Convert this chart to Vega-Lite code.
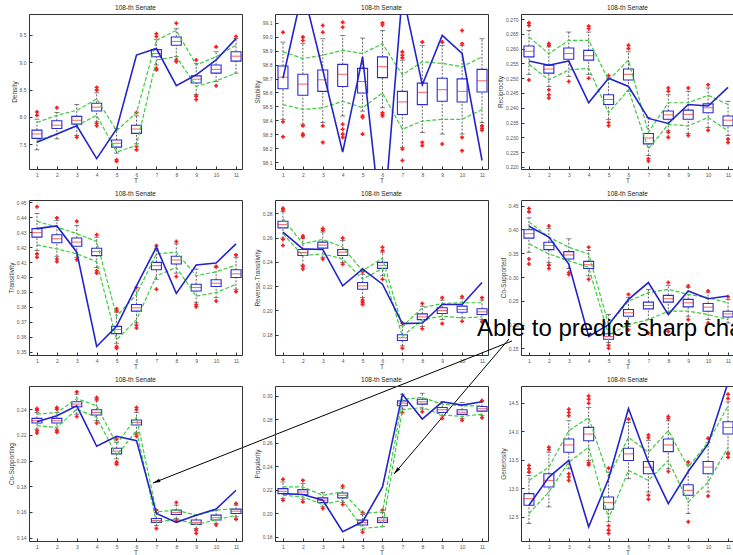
{
"$schema":"https://vega.github.io/schema/vega-lite/v6.json",
"padding":{"left":7,"top":4,"right":0,"bottom":0},
"background":"white",
"columns":3,
"spacing":{"row":31,"column":33},
"bounds":"flush",
"datasets":{
"boxes":[
{"panel":"Density","t":1,"lo":7.40,"q1":7.61,"med":7.69,"q3":7.76,"hi":7.96,"actual":7.54,"upper":7.90,"lower":7.57},
{"panel":"Density","t":2,"lo":7.60,"q1":7.79,"med":7.85,"q3":7.93,"hi":8.08,"actual":7.69,"upper":8.03,"lower":7.69},
{"panel":"Density","t":3,"lo":7.66,"q1":7.87,"med":7.94,"q3":8.01,"hi":8.23,"actual":7.84,"upper":8.12,"lower":7.84},
{"panel":"Density","t":4,"lo":7.91,"q1":8.11,"med":8.18,"q3":8.25,"hi":8.44,"actual":7.24,"upper":8.33,"lower":8.03},
{"panel":"Density","t":5,"lo":7.34,"q1":7.45,"med":7.52,"q3":7.58,"hi":7.79,"actual":7.78,"upper":7.75,"lower":7.36},
{"panel":"Density","t":6,"lo":7.51,"q1":7.70,"med":7.78,"q3":7.85,"hi":8.02,"actual":9.13,"upper":8.08,"lower":7.48},
{"panel":"Density","t":7,"lo":8.95,"q1":9.10,"med":9.16,"q3":9.23,"hi":9.41,"actual":9.25,"upper":9.40,"lower":9.04},
{"panel":"Density","t":8,"lo":9.10,"q1":9.31,"med":9.38,"q3":9.46,"hi":9.61,"actual":8.57,"upper":9.58,"lower":9.10},
{"panel":"Density","t":9,"lo":8.41,"q1":8.62,"med":8.69,"q3":8.75,"hi":8.98,"actual":8.77,"upper":8.95,"lower":8.56},
{"panel":"Density","t":10,"lo":8.65,"q1":8.80,"med":8.87,"q3":8.95,"hi":9.19,"actual":9.04,"upper":9.10,"lower":8.66},
{"panel":"Density","t":11,"lo":8.80,"q1":9.02,"med":9.11,"q3":9.19,"hi":9.43,"actual":9.43,"upper":9.31,"lower":8.80},
{"panel":"Stability","t":1,"lo":98.407,"q1":98.627,"med":98.710,"q3":98.790,"hi":98.962,"actual":98.702,"upper":98.892,"lower":98.513},
{"panel":"Stability","t":2,"lo":98.372,"q1":98.580,"med":98.660,"q3":98.731,"hi":98.951,"actual":99.341,"upper":98.844,"lower":98.478},
{"panel":"Stability","t":3,"lo":98.383,"q1":98.608,"med":98.691,"q3":98.762,"hi":98.986,"actual":98.762,"upper":98.868,"lower":98.490},
{"panel":"Stability","t":4,"lo":98.431,"q1":98.643,"med":98.731,"q3":98.802,"hi":99.010,"actual":98.171,"upper":98.903,"lower":98.537},
{"panel":"Stability","t":5,"lo":98.466,"q1":98.596,"med":98.679,"q3":98.773,"hi":98.991,"actual":98.856,"upper":98.880,"lower":98.490},
{"panel":"Stability","t":6,"lo":98.490,"q1":98.707,"med":98.785,"q3":98.856,"hi":99.045,"actual":97.568,"upper":98.951,"lower":98.596},
{"panel":"Stability","t":7,"lo":98.206,"q1":98.442,"med":98.532,"q3":98.608,"hi":98.832,"actual":99.317,"upper":98.726,"lower":98.336},
{"panel":"Stability","t":8,"lo":98.312,"q1":98.513,"med":98.601,"q3":98.667,"hi":98.939,"actual":98.655,"upper":98.821,"lower":98.395},
{"panel":"Stability","t":9,"lo":98.301,"q1":98.537,"med":98.620,"q3":98.702,"hi":98.939,"actual":99.010,"upper":98.809,"lower":98.407},
{"panel":"Stability","t":10,"lo":98.301,"q1":98.532,"med":98.608,"q3":98.698,"hi":98.939,"actual":98.880,"upper":98.785,"lower":98.407},
{"panel":"Stability","t":11,"lo":98.383,"q1":98.603,"med":98.684,"q3":98.766,"hi":98.986,"actual":98.111,"upper":98.856,"lower":98.478},
{"panel":"Reciprocity","t":1,"lo":0.2513,"q1":0.2572,"med":0.2591,"q3":0.2609,"hi":0.2661,"actual":0.2558,"upper":0.2639,"lower":0.2547},
{"panel":"Reciprocity","t":2,"lo":0.2472,"q1":0.2517,"med":0.2531,"q3":0.2544,"hi":0.2606,"actual":0.2544,"upper":0.2583,"lower":0.2494},
{"panel":"Reciprocity","t":3,"lo":0.2506,"q1":0.2564,"med":0.2583,"q3":0.2602,"hi":0.2656,"actual":0.2558,"upper":0.2628,"lower":0.2528},
{"panel":"Reciprocity","t":4,"lo":0.2513,"q1":0.2561,"med":0.2576,"q3":0.2594,"hi":0.2656,"actual":0.2417,"upper":0.2628,"lower":0.2533},
{"panel":"Reciprocity","t":5,"lo":0.2361,"q1":0.2411,"med":0.2428,"q3":0.2444,"hi":0.2500,"actual":0.2500,"upper":0.2494,"lower":0.2383},
{"panel":"Reciprocity","t":6,"lo":0.2456,"q1":0.2494,"med":0.2513,"q3":0.2531,"hi":0.2589,"actual":0.2472,"upper":0.2561,"lower":0.2461},
{"panel":"Reciprocity","t":7,"lo":0.2239,"q1":0.2278,"med":0.2298,"q3":0.2313,"hi":0.2367,"actual":0.2364,"upper":0.2317,"lower":0.2261},
{"panel":"Reciprocity","t":8,"lo":0.2322,"q1":0.2361,"med":0.2376,"q3":0.2389,"hi":0.2444,"actual":0.2347,"upper":0.2417,"lower":0.2344},
{"panel":"Reciprocity","t":9,"lo":0.2313,"q1":0.2361,"med":0.2378,"q3":0.2392,"hi":0.2456,"actual":0.2411,"upper":0.2417,"lower":0.2339},
{"panel":"Reciprocity","t":10,"lo":0.2333,"q1":0.2383,"med":0.2400,"q3":0.2413,"hi":0.2467,"actual":0.2406,"upper":0.2442,"lower":0.2367},
{"panel":"Reciprocity","t":11,"lo":0.2306,"q1":0.2339,"med":0.2358,"q3":0.2372,"hi":0.2422,"actual":0.2469,"upper":0.2411,"lower":0.2322},
{"panel":"Transitivity","t":1,"lo":0.4177,"q1":0.4267,"med":0.4297,"q3":0.4324,"hi":0.4425,"actual":0.4324,"upper":0.4373,"lower":0.4215},
{"panel":"Transitivity","t":2,"lo":0.4139,"q1":0.4229,"med":0.4256,"q3":0.4283,"hi":0.4380,"actual":0.4342,"upper":0.4335,"lower":0.4188},
{"panel":"Transitivity","t":3,"lo":0.4132,"q1":0.4206,"med":0.4234,"q3":0.4261,"hi":0.4346,"actual":0.4166,"upper":0.4290,"lower":0.4155},
{"panel":"Transitivity","t":4,"lo":0.4064,"q1":0.4143,"med":0.4170,"q3":0.4193,"hi":0.4267,"actual":0.3534,"upper":0.4238,"lower":0.4103},
{"panel":"Transitivity","t":5,"lo":0.3556,"q1":0.3620,"med":0.3647,"q3":0.3669,"hi":0.3764,"actual":0.3669,"upper":0.3737,"lower":0.3579},
{"panel":"Transitivity","t":6,"lo":0.3692,"q1":0.3771,"med":0.3793,"q3":0.3816,"hi":0.3906,"actual":0.3940,"upper":0.3884,"lower":0.3714},
{"panel":"Transitivity","t":7,"lo":0.3985,"q1":0.4048,"med":0.4076,"q3":0.4098,"hi":0.4188,"actual":0.4200,"upper":0.4155,"lower":0.4008},
{"panel":"Transitivity","t":8,"lo":0.4026,"q1":0.4087,"med":0.4114,"q3":0.4139,"hi":0.4222,"actual":0.3890,"upper":0.4166,"lower":0.4064},
{"panel":"Transitivity","t":9,"lo":0.3827,"q1":0.3906,"med":0.3929,"q3":0.3951,"hi":0.4053,"actual":0.4080,"upper":0.4008,"lower":0.3872},
{"panel":"Transitivity","t":10,"lo":0.3861,"q1":0.3936,"med":0.3958,"q3":0.3981,"hi":0.4064,"actual":0.4094,"upper":0.4035,"lower":0.3895},
{"panel":"Transitivity","t":11,"lo":0.3918,"q1":0.3997,"med":0.4021,"q3":0.4048,"hi":0.4132,"actual":0.4222,"upper":0.4080,"lower":0.3951},
{"panel":"Reverse-Transitivity","t":1,"lo":0.2597,"q1":0.2681,"med":0.2708,"q3":0.2736,"hi":0.2814,"actual":0.2647,"upper":0.2758,"lower":0.2633},
{"panel":"Reverse-Transitivity","t":2,"lo":0.2375,"q1":0.2453,"med":0.2478,"q3":0.2503,"hi":0.2592,"actual":0.2508,"upper":0.2550,"lower":0.2453},
{"panel":"Reverse-Transitivity","t":3,"lo":0.2439,"q1":0.2514,"med":0.2539,"q3":0.2564,"hi":0.2647,"actual":0.2503,"upper":0.2586,"lower":0.2467},
{"panel":"Reverse-Transitivity","t":4,"lo":0.2397,"q1":0.2453,"med":0.2481,"q3":0.2503,"hi":0.2578,"actual":0.2203,"upper":0.2522,"lower":0.2425},
{"panel":"Reverse-Transitivity","t":5,"lo":0.2106,"q1":0.2175,"med":0.2203,"q3":0.2231,"hi":0.2300,"actual":0.2342,"upper":0.2328,"lower":0.2258},
{"panel":"Reverse-Transitivity","t":6,"lo":0.2286,"q1":0.2347,"med":0.2372,"q3":0.2397,"hi":0.2481,"actual":0.2217,"upper":0.2431,"lower":0.2347},
{"panel":"Reverse-Transitivity","t":7,"lo":0.1708,"q1":0.1753,"med":0.1775,"q3":0.1800,"hi":0.1875,"actual":0.1892,"upper":0.1869,"lower":0.1786},
{"panel":"Reverse-Transitivity","t":8,"lo":0.1869,"q1":0.1925,"med":0.1947,"q3":0.1972,"hi":0.2036,"actual":0.1897,"upper":0.2022,"lower":0.1925},
{"panel":"Reverse-Transitivity","t":9,"lo":0.1925,"q1":0.1975,"med":0.2000,"q3":0.2022,"hi":0.2086,"actual":0.2050,"upper":0.2058,"lower":0.1953},
{"panel":"Reverse-Transitivity","t":10,"lo":0.1939,"q1":0.1986,"med":0.2008,"q3":0.2036,"hi":0.2097,"actual":0.2050,"upper":0.2064,"lower":0.1939},
{"panel":"Reverse-Transitivity","t":11,"lo":0.1925,"q1":0.1967,"med":0.1989,"q3":0.2014,"hi":0.2086,"actual":0.2231,"upper":0.2064,"lower":0.1947},
{"panel":"Co-Supported","t":1,"lo":0.3521,"q1":0.3818,"med":0.3911,"q3":0.3996,"hi":0.4244,"actual":0.4067,"upper":0.4159,"lower":0.3698},
{"panel":"Co-Supported","t":2,"lo":0.3308,"q1":0.3577,"med":0.3663,"q3":0.3733,"hi":0.4017,"actual":0.3840,"upper":0.3840,"lower":0.3485},
{"panel":"Co-Supported","t":3,"lo":0.3180,"q1":0.3379,"med":0.3464,"q3":0.3535,"hi":0.3804,"actual":0.3273,"upper":0.3627,"lower":0.3343},
{"panel":"Co-Supported","t":4,"lo":0.3024,"q1":0.3180,"med":0.3258,"q3":0.3329,"hi":0.3556,"actual":0.1748,"upper":0.3485,"lower":0.3202},
{"panel":"Co-Supported","t":5,"lo":0.1621,"q1":0.1691,"med":0.1748,"q3":0.1805,"hi":0.2209,"actual":0.1996,"upper":0.1996,"lower":0.1784},
{"panel":"Co-Supported","t":6,"lo":0.1961,"q1":0.2174,"med":0.2245,"q3":0.2315,"hi":0.2564,"actual":0.2528,"upper":0.2493,"lower":0.1996},
{"panel":"Co-Supported","t":7,"lo":0.2103,"q1":0.2330,"med":0.2400,"q3":0.2471,"hi":0.2741,"actual":0.2883,"upper":0.2670,"lower":0.2103},
{"panel":"Co-Supported","t":8,"lo":0.2245,"q1":0.2471,"med":0.2542,"q3":0.2613,"hi":0.2826,"actual":0.2209,"upper":0.2741,"lower":0.2280},
{"panel":"Co-Supported","t":9,"lo":0.2174,"q1":0.2372,"med":0.2457,"q3":0.2528,"hi":0.2776,"actual":0.2705,"upper":0.2634,"lower":0.2280},
{"panel":"Co-Supported","t":10,"lo":0.2103,"q1":0.2280,"med":0.2365,"q3":0.2443,"hi":0.2670,"actual":0.2542,"upper":0.2564,"lower":0.2209},
{"panel":"Co-Supported","t":11,"lo":0.2032,"q1":0.2159,"med":0.2223,"q3":0.2280,"hi":0.2528,"actual":0.2599,"upper":0.2457,"lower":0.2103},
{"panel":"Co-Supporting","t":1,"lo":0.2245,"q1":0.2292,"med":0.2310,"q3":0.2328,"hi":0.2374,"actual":0.2302,"upper":0.2361,"lower":0.2271},
{"panel":"Co-Supporting","t":2,"lo":0.2245,"q1":0.2292,"med":0.2310,"q3":0.2328,"hi":0.2374,"actual":0.2348,"upper":0.2374,"lower":0.2258},
{"panel":"Co-Supporting","t":3,"lo":0.2361,"q1":0.2418,"med":0.2439,"q3":0.2457,"hi":0.2516,"actual":0.2426,"upper":0.2482,"lower":0.2400},
{"panel":"Co-Supporting","t":4,"lo":0.2310,"q1":0.2354,"med":0.2374,"q3":0.2395,"hi":0.2464,"actual":0.2111,"upper":0.2426,"lower":0.2335},
{"panel":"Co-Supporting","t":5,"lo":0.2013,"q1":0.2052,"med":0.2073,"q3":0.2096,"hi":0.2142,"actual":0.2189,"upper":0.2129,"lower":0.2039},
{"panel":"Co-Supporting","t":6,"lo":0.2220,"q1":0.2276,"med":0.2297,"q3":0.2315,"hi":0.2374,"actual":0.2155,"upper":0.2335,"lower":0.2232},
{"panel":"Co-Supporting","t":7,"lo":0.1493,"q1":0.1519,"med":0.1534,"q3":0.1549,"hi":0.1596,"actual":0.1588,"upper":0.1601,"lower":0.1519},
{"panel":"Co-Supporting","t":8,"lo":0.1549,"q1":0.1580,"med":0.1596,"q3":0.1614,"hi":0.1653,"actual":0.1519,"upper":0.1614,"lower":0.1544},
{"panel":"Co-Supporting","t":9,"lo":0.1472,"q1":0.1503,"med":0.1519,"q3":0.1537,"hi":0.1575,"actual":0.1575,"upper":0.1575,"lower":0.1503},
{"panel":"Co-Supporting","t":10,"lo":0.1511,"q1":0.1537,"med":0.1555,"q3":0.1575,"hi":0.1614,"actual":0.1622,"upper":0.1614,"lower":0.1537},
{"panel":"Co-Supporting","t":11,"lo":0.1562,"q1":0.1588,"med":0.1606,"q3":0.1622,"hi":0.1653,"actual":0.1769,"upper":0.1627,"lower":0.1575},
{"panel":"Popularity","t":1,"lo":0.2125,"q1":0.2167,"med":0.2187,"q3":0.2210,"hi":0.2266,"actual":0.2167,"upper":0.2224,"lower":0.2153},
{"panel":"Popularity","t":2,"lo":0.2119,"q1":0.2159,"med":0.2181,"q3":0.2201,"hi":0.2252,"actual":0.2159,"upper":0.2224,"lower":0.2139},
{"panel":"Popularity","t":3,"lo":0.2054,"q1":0.2091,"med":0.2111,"q3":0.2131,"hi":0.2176,"actual":0.2111,"upper":0.2153,"lower":0.2074},
{"panel":"Popularity","t":4,"lo":0.2091,"q1":0.2131,"med":0.2153,"q3":0.2173,"hi":0.2215,"actual":0.1842,"upper":0.2181,"lower":0.2111},
{"panel":"Popularity","t":5,"lo":0.1857,"q1":0.1899,"med":0.1922,"q3":0.1941,"hi":0.1989,"actual":0.1927,"upper":0.1998,"lower":0.1871},
{"panel":"Popularity","t":6,"lo":0.1885,"q1":0.1922,"med":0.1941,"q3":0.1961,"hi":0.2006,"actual":0.2224,"upper":0.2012,"lower":0.1885},
{"panel":"Popularity","t":7,"lo":0.2888,"q1":0.2916,"med":0.2939,"q3":0.2958,"hi":0.3015,"actual":0.3015,"upper":0.2972,"lower":0.2882},
{"panel":"Popularity","t":8,"lo":0.2888,"q1":0.2930,"med":0.2950,"q3":0.2972,"hi":0.3023,"actual":0.2803,"upper":0.2987,"lower":0.2902},
{"panel":"Popularity","t":9,"lo":0.2831,"q1":0.2859,"med":0.2882,"q3":0.2902,"hi":0.2950,"actual":0.2950,"upper":0.2930,"lower":0.2837},
{"panel":"Popularity","t":10,"lo":0.2809,"q1":0.2843,"med":0.2862,"q3":0.2882,"hi":0.2944,"actual":0.2922,"upper":0.2916,"lower":0.2826},
{"panel":"Popularity","t":11,"lo":0.2831,"q1":0.2871,"med":0.2891,"q3":0.2910,"hi":0.2950,"actual":0.2950,"upper":0.2916,"lower":0.2845},
{"panel":"Generosity","t":1,"lo":12.384,"q1":12.703,"med":12.819,"q3":12.906,"hi":13.225,"actual":12.703,"upper":13.138,"lower":12.558},
{"panel":"Generosity","t":2,"lo":12.674,"q1":13.022,"med":13.138,"q3":13.254,"hi":13.631,"actual":13.196,"upper":13.370,"lower":12.935},
{"panel":"Generosity","t":3,"lo":13.341,"q1":13.631,"med":13.758,"q3":13.862,"hi":14.181,"actual":13.486,"upper":14.007,"lower":13.457},
{"panel":"Generosity","t":4,"lo":13.486,"q1":13.833,"med":13.949,"q3":14.065,"hi":14.413,"actual":12.326,"upper":14.239,"lower":13.718},
{"panel":"Generosity","t":5,"lo":12.413,"q1":12.634,"med":12.749,"q3":12.848,"hi":13.283,"actual":13.167,"upper":13.196,"lower":12.471},
{"panel":"Generosity","t":6,"lo":13.167,"q1":13.486,"med":13.602,"q3":13.700,"hi":14.152,"actual":14.396,"upper":13.891,"lower":13.312},
{"panel":"Generosity","t":7,"lo":12.935,"q1":13.254,"med":13.370,"q3":13.468,"hi":13.833,"actual":13.457,"upper":13.631,"lower":13.138},
{"panel":"Generosity","t":8,"lo":13.341,"q1":13.642,"med":13.758,"q3":13.862,"hi":14.181,"actual":12.732,"upper":14.007,"lower":13.486},
{"panel":"Generosity","t":9,"lo":12.558,"q1":12.877,"med":12.964,"q3":13.062,"hi":13.410,"actual":13.294,"upper":13.370,"lower":12.761},
{"panel":"Generosity","t":10,"lo":12.935,"q1":13.254,"med":13.370,"q3":13.468,"hi":13.805,"actual":13.776,"upper":13.805,"lower":13.109},
{"panel":"Generosity","t":11,"lo":13.631,"q1":13.949,"med":14.065,"q3":14.164,"hi":14.512,"actual":14.848,"upper":14.442,"lower":13.718}
],
"outliers":[
{"panel":"Density","t":1,"v":8.09},{"panel":"Density","t":1,"v":8.03},{"panel":"Density","t":2,"v":8.17},{"panel":"Density","t":3,"v":7.63},
{"panel":"Density","t":4,"v":8.54},{"panel":"Density","t":4,"v":8.49},{"panel":"Density","t":4,"v":7.88},{"panel":"Density","t":4,"v":7.84},
{"panel":"Density","t":5,"v":7.22},{"panel":"Density","t":5,"v":7.19},{"panel":"Density","t":6,"v":8.08},{"panel":"Density","t":6,"v":7.46},{"panel":"Density","t":6,"v":7.40},
{"panel":"Density","t":7,"v":9.52},{"panel":"Density","t":7,"v":9.47},{"panel":"Density","t":7,"v":8.89},{"panel":"Density","t":7,"v":8.86},
{"panel":"Density","t":8,"v":9.71},{"panel":"Density","t":8,"v":9.04},{"panel":"Density","t":8,"v":9.01},
{"panel":"Density","t":9,"v":9.04},{"panel":"Density","t":9,"v":8.38},{"panel":"Density","t":9,"v":8.32},
{"panel":"Density","t":10,"v":9.28},{"panel":"Density","t":10,"v":8.57},{"panel":"Density","t":11,"v":9.47},
{"panel":"Stability","t":1,"v":99.033},{"panel":"Stability","t":1,"v":98.390},{"panel":"Stability","t":1,"v":98.282},
{"panel":"Stability","t":2,"v":98.998},{"panel":"Stability","t":2,"v":98.974},{"panel":"Stability","t":2,"v":98.360},{"panel":"Stability","t":2,"v":98.301},{"panel":"Stability","t":2,"v":98.289},
{"panel":"Stability","t":3,"v":99.081},{"panel":"Stability","t":3,"v":99.033},{"panel":"Stability","t":3,"v":98.360},{"panel":"Stability","t":3,"v":98.241},
{"panel":"Stability","t":4,"v":99.104},{"panel":"Stability","t":4,"v":99.069},{"panel":"Stability","t":4,"v":98.372},{"panel":"Stability","t":4,"v":98.336},{"panel":"Stability","t":4,"v":98.301},{"panel":"Stability","t":4,"v":98.277},
{"panel":"Stability","t":5,"v":98.431},{"panel":"Stability","t":5,"v":98.420},{"panel":"Stability","t":5,"v":98.301},
{"panel":"Stability","t":6,"v":99.100},{"panel":"Stability","t":6,"v":99.085},{"panel":"Stability","t":6,"v":98.454},{"panel":"Stability","t":6,"v":98.442},{"panel":"Stability","t":6,"v":98.431},
{"panel":"Stability","t":7,"v":98.892},{"panel":"Stability","t":7,"v":98.868},{"panel":"Stability","t":7,"v":98.849},{"panel":"Stability","t":7,"v":98.194},{"panel":"Stability","t":7,"v":98.111},
{"panel":"Stability","t":8,"v":98.962},{"panel":"Stability","t":8,"v":98.241},{"panel":"Stability","t":8,"v":98.218},
{"panel":"Stability","t":9,"v":98.962},{"panel":"Stability","t":9,"v":98.230},
{"panel":"Stability","t":10,"v":99.045},{"panel":"Stability","t":10,"v":98.951},{"panel":"Stability","t":10,"v":98.277},{"panel":"Stability","t":10,"v":98.182},
{"panel":"Stability","t":11,"v":98.360},{"panel":"Stability","t":11,"v":98.343},{"panel":"Stability","t":11,"v":98.329},
{"panel":"Reciprocity","t":1,"v":0.2687},{"panel":"Reciprocity","t":1,"v":0.2678},{"panel":"Reciprocity","t":1,"v":0.2494},
{"panel":"Reciprocity","t":2,"v":0.2617},{"panel":"Reciprocity","t":2,"v":0.2611},{"panel":"Reciprocity","t":2,"v":0.2461},{"panel":"Reciprocity","t":2,"v":0.2444},{"panel":"Reciprocity","t":2,"v":0.2433},
{"panel":"Reciprocity","t":3,"v":0.2489},
{"panel":"Reciprocity","t":4,"v":0.2676},{"panel":"Reciprocity","t":4,"v":0.2667},{"panel":"Reciprocity","t":4,"v":0.2500},
{"panel":"Reciprocity","t":5,"v":0.2509},{"panel":"Reciprocity","t":5,"v":0.2350},{"panel":"Reciprocity","t":5,"v":0.2339},
{"panel":"Reciprocity","t":6,"v":0.2611},{"panel":"Reciprocity","t":6,"v":0.2600},
{"panel":"Reciprocity","t":7,"v":0.2228},{"panel":"Reciprocity","t":7,"v":0.2220},
{"panel":"Reciprocity","t":8,"v":0.2467},{"panel":"Reciprocity","t":8,"v":0.2456},{"panel":"Reciprocity","t":8,"v":0.2317},{"panel":"Reciprocity","t":8,"v":0.2300},
{"panel":"Reciprocity","t":9,"v":0.2467},{"panel":"Reciprocity","t":9,"v":0.2306},
{"panel":"Reciprocity","t":10,"v":0.2478},{"panel":"Reciprocity","t":10,"v":0.2324},
{"panel":"Reciprocity","t":11,"v":0.2294},{"panel":"Reciprocity","t":11,"v":0.2283},
{"panel":"Transitivity","t":1,"v":0.4471},{"panel":"Transitivity","t":1,"v":0.4155},{"panel":"Transitivity","t":1,"v":0.4132},
{"panel":"Transitivity","t":2,"v":0.4396},{"panel":"Transitivity","t":2,"v":0.4121},{"panel":"Transitivity","t":2,"v":0.4103},
{"panel":"Transitivity","t":3,"v":0.4373},{"panel":"Transitivity","t":3,"v":0.4116},
{"panel":"Transitivity","t":4,"v":0.4283},{"panel":"Transitivity","t":4,"v":0.4042},{"panel":"Transitivity","t":4,"v":0.4026},
{"panel":"Transitivity","t":5,"v":0.3787},{"panel":"Transitivity","t":5,"v":0.3773},{"panel":"Transitivity","t":5,"v":0.3534},{"panel":"Transitivity","t":5,"v":0.3523},
{"panel":"Transitivity","t":6,"v":0.3929},{"panel":"Transitivity","t":6,"v":0.3676},{"panel":"Transitivity","t":6,"v":0.3658},
{"panel":"Transitivity","t":7,"v":0.4210},{"panel":"Transitivity","t":7,"v":0.3918},
{"panel":"Transitivity","t":8,"v":0.4238},{"panel":"Transitivity","t":8,"v":0.4003},
{"panel":"Transitivity","t":9,"v":0.3814},{"panel":"Transitivity","t":9,"v":0.3800},
{"panel":"Transitivity","t":10,"v":0.4071},{"panel":"Transitivity","t":10,"v":0.3839},
{"panel":"Transitivity","t":11,"v":0.4148},{"panel":"Transitivity","t":11,"v":0.3902},
{"panel":"Reverse-Transitivity","t":1,"v":0.2842},{"panel":"Reverse-Transitivity","t":1,"v":0.2828},{"panel":"Reverse-Transitivity","t":1,"v":0.2586},{"panel":"Reverse-Transitivity","t":1,"v":0.2536},
{"panel":"Reverse-Transitivity","t":2,"v":0.2614},{"panel":"Reverse-Transitivity","t":2,"v":0.2603},{"panel":"Reverse-Transitivity","t":2,"v":0.2364},{"panel":"Reverse-Transitivity","t":2,"v":0.2342},
{"panel":"Reverse-Transitivity","t":3,"v":0.2675},{"panel":"Reverse-Transitivity","t":3,"v":0.2661},{"panel":"Reverse-Transitivity","t":3,"v":0.2425},
{"panel":"Reverse-Transitivity","t":4,"v":0.2597},{"panel":"Reverse-Transitivity","t":4,"v":0.2381},
{"panel":"Reverse-Transitivity","t":5,"v":0.2336},{"panel":"Reverse-Transitivity","t":5,"v":0.2319},{"panel":"Reverse-Transitivity","t":5,"v":0.2086},{"panel":"Reverse-Transitivity","t":5,"v":0.2069},{"panel":"Reverse-Transitivity","t":5,"v":0.2050},
{"panel":"Reverse-Transitivity","t":6,"v":0.2522},{"panel":"Reverse-Transitivity","t":6,"v":0.2494},{"panel":"Reverse-Transitivity","t":6,"v":0.2258},
{"panel":"Reverse-Transitivity","t":7,"v":0.1897},{"panel":"Reverse-Transitivity","t":7,"v":0.1689},
{"panel":"Reverse-Transitivity","t":8,"v":0.2058},{"panel":"Reverse-Transitivity","t":8,"v":0.1850},
{"panel":"Reverse-Transitivity","t":9,"v":0.2106},{"panel":"Reverse-Transitivity","t":9,"v":0.1892},
{"panel":"Reverse-Transitivity","t":10,"v":0.2114},{"panel":"Reverse-Transitivity","t":10,"v":0.1911},
{"panel":"Reverse-Transitivity","t":11,"v":0.2106},{"panel":"Reverse-Transitivity","t":11,"v":0.1908},
{"panel":"Co-Supported","t":1,"v":0.4442},{"panel":"Co-Supported","t":1,"v":0.4372},{"panel":"Co-Supported","t":1,"v":0.3379},{"panel":"Co-Supported","t":1,"v":0.3273},
{"panel":"Co-Supported","t":2,"v":0.4074},{"panel":"Co-Supported","t":2,"v":0.3251},{"panel":"Co-Supported","t":2,"v":0.3180},
{"panel":"Co-Supported","t":3,"v":0.3095},{"panel":"Co-Supported","t":3,"v":0.3053},
{"panel":"Co-Supported","t":4,"v":0.3627},{"panel":"Co-Supported","t":4,"v":0.2954},
{"panel":"Co-Supported","t":5,"v":0.1564},{"panel":"Co-Supported","t":5,"v":0.1500},
{"panel":"Co-Supported","t":6,"v":0.2634},{"panel":"Co-Supported","t":6,"v":0.1890},
{"panel":"Co-Supported","t":7,"v":0.1819},
{"panel":"Co-Supported","t":8,"v":0.2883},{"panel":"Co-Supported","t":8,"v":0.1855},
{"panel":"Co-Supported","t":9,"v":0.2812},{"panel":"Co-Supported","t":9,"v":0.2103},
{"panel":"Co-Supported","t":10,"v":0.2705},{"panel":"Co-Supported","t":10,"v":0.2032},
{"panel":"Co-Supported","t":11,"v":0.2585},
{"panel":"Co-Supporting","t":1,"v":0.2405},{"panel":"Co-Supporting","t":1,"v":0.2392},{"panel":"Co-Supporting","t":1,"v":0.2232},{"panel":"Co-Supporting","t":1,"v":0.2214},
{"panel":"Co-Supporting","t":2,"v":0.2413},{"panel":"Co-Supporting","t":2,"v":0.2400},{"panel":"Co-Supporting","t":2,"v":0.2232},{"panel":"Co-Supporting","t":2,"v":0.2220},
{"panel":"Co-Supporting","t":3,"v":0.2534},{"panel":"Co-Supporting","t":3,"v":0.2343},
{"panel":"Co-Supporting","t":4,"v":0.2490},{"panel":"Co-Supporting","t":4,"v":0.2477},{"panel":"Co-Supporting","t":4,"v":0.2292},
{"panel":"Co-Supporting","t":5,"v":0.2168},{"panel":"Co-Supporting","t":5,"v":0.1988},{"panel":"Co-Supporting","t":5,"v":0.1972},
{"panel":"Co-Supporting","t":6,"v":0.2413},{"panel":"Co-Supporting","t":6,"v":0.2395},{"panel":"Co-Supporting","t":6,"v":0.2207},{"panel":"Co-Supporting","t":6,"v":0.2189},
{"panel":"Co-Supporting","t":7,"v":0.1614},{"panel":"Co-Supporting","t":7,"v":0.1472},
{"panel":"Co-Supporting","t":8,"v":0.1673},{"panel":"Co-Supporting","t":8,"v":0.1529},
{"panel":"Co-Supporting","t":9,"v":0.1459},{"panel":"Co-Supporting","t":9,"v":0.1434},
{"panel":"Co-Supporting","t":10,"v":0.1498},
{"panel":"Co-Supporting","t":11,"v":0.1665},{"panel":"Co-Supporting","t":11,"v":0.1544},
{"panel":"Popularity","t":1,"v":0.2289},{"panel":"Popularity","t":1,"v":0.2111},
{"panel":"Popularity","t":2,"v":0.2280},{"panel":"Popularity","t":2,"v":0.2097},
{"panel":"Popularity","t":3,"v":0.2040},
{"panel":"Popularity","t":4,"v":0.2232},{"panel":"Popularity","t":4,"v":0.2074},
{"panel":"Popularity","t":5,"v":0.2006},{"panel":"Popularity","t":5,"v":0.1837},
{"panel":"Popularity","t":6,"v":0.2026},
{"panel":"Popularity","t":7,"v":0.2859},
{"panel":"Popularity","t":8,"v":0.2865},
{"panel":"Popularity","t":9,"v":0.2809},
{"panel":"Popularity","t":10,"v":0.2792},
{"panel":"Popularity","t":11,"v":0.2961},{"panel":"Popularity","t":11,"v":0.2814},
{"panel":"Generosity","t":1,"v":13.399},{"panel":"Generosity","t":1,"v":13.341},{"panel":"Generosity","t":1,"v":13.283},
{"panel":"Generosity","t":2,"v":13.718},{"panel":"Generosity","t":2,"v":13.677},
{"panel":"Generosity","t":3,"v":14.384},{"panel":"Generosity","t":3,"v":14.326},{"panel":"Generosity","t":3,"v":14.268},{"panel":"Generosity","t":3,"v":13.254},{"panel":"Generosity","t":3,"v":13.196},{"panel":"Generosity","t":3,"v":13.138},
{"panel":"Generosity","t":4,"v":14.616},{"panel":"Generosity","t":4,"v":14.558},{"panel":"Generosity","t":4,"v":14.489},{"panel":"Generosity","t":4,"v":13.445},{"panel":"Generosity","t":4,"v":13.410},
{"panel":"Generosity","t":5,"v":13.352},{"panel":"Generosity","t":5,"v":12.344},{"panel":"Generosity","t":5,"v":12.268},{"panel":"Generosity","t":5,"v":12.210},
{"panel":"Generosity","t":6,"v":14.210},
{"panel":"Generosity","t":7,"v":13.932},{"panel":"Generosity","t":7,"v":13.886},{"panel":"Generosity","t":7,"v":12.877},{"panel":"Generosity","t":7,"v":12.807},
{"panel":"Generosity","t":8,"v":14.257},{"panel":"Generosity","t":8,"v":14.222},{"panel":"Generosity","t":8,"v":13.294},
{"panel":"Generosity","t":9,"v":13.457},{"panel":"Generosity","t":9,"v":12.413},
{"panel":"Generosity","t":10,"v":13.874},{"panel":"Generosity","t":10,"v":12.865},
{"panel":"Generosity","t":11,"v":14.645},{"panel":"Generosity","t":11,"v":14.570},{"panel":"Generosity","t":11,"v":13.602},{"panel":"Generosity","t":11,"v":13.544}
]
},
"concat":[
{"width":213,"height":155,"title":"108-th Senate",
"encoding":{"x":{"type":"quantitative","scale":{"domain":[0.6,11.3],"nice":false,"zero":false,"padding":0},"axis":{"values":[1,2,3,4,5,6,7,8,9,10,11],"format":"d","labelOverlap":false},"title":"T"},"y":{"type":"quantitative","scale":{"domain":[7.05,9.88],"nice":false,"zero":false},"axis":{"values":[7.5,8,8.5,9,9.5],"format":".1f","labelOverlap":false},"title":"Density"}},
"layer":[
{"data":{"name":"boxes"},"transform":[{"filter":"datum.panel==='Density'"}],"mark":{"type":"rule","stroke":"#222","strokeDash":[2,1.5],"strokeWidth":0.7},"encoding":{"x":{"field":"t"},"y":{"field":"q3"},"y2":{"field":"hi"}}},
{"data":{"name":"boxes"},"transform":[{"filter":"datum.panel==='Density'"}],"mark":{"type":"rule","stroke":"#222","strokeDash":[2,1.5],"strokeWidth":0.7},"encoding":{"x":{"field":"t"},"y":{"field":"lo"},"y2":{"field":"q1"}}},
{"data":{"name":"boxes"},"transform":[{"filter":"datum.panel==='Density'"}],"mark":{"type":"tick","orient":"horizontal","color":"#222","size":5,"thickness":0.8},"encoding":{"x":{"field":"t"},"y":{"field":"hi"}}},
{"data":{"name":"boxes"},"transform":[{"filter":"datum.panel==='Density'"}],"mark":{"type":"tick","orient":"horizontal","color":"#222","size":5,"thickness":0.8},"encoding":{"x":{"field":"t"},"y":{"field":"lo"}}},
{"data":{"name":"boxes"},"transform":[{"filter":"datum.panel==='Density'"}],"mark":{"type":"bar","size":10,"fill":"transparent","stroke":"#2b2bdd","strokeWidth":1.1},"encoding":{"x":{"field":"t"},"y":{"field":"q3"},"y2":{"field":"q1"}}},
{"data":{"name":"boxes"},"transform":[{"filter":"datum.panel==='Density'"}],"mark":{"type":"tick","orient":"horizontal","color":"#ee2020","size":10,"thickness":1},"encoding":{"x":{"field":"t"},"y":{"field":"med"}}},
{"data":{"name":"outliers"},"transform":[{"filter":"datum.panel==='Density'"}],"mark":{"type":"point","shape":"cross","filled":true,"color":"#ee2020","size":16,"opacity":1},"encoding":{"x":{"field":"t"},"y":{"field":"v"}}},
{"data":{"name":"boxes"},"transform":[{"filter":"datum.panel==='Density'"}],"mark":{"type":"line","clip":true,"stroke":"#3ccc3c","strokeDash":[4,2],"strokeWidth":1.2},"encoding":{"x":{"field":"t"},"y":{"field":"upper"}}},
{"data":{"name":"boxes"},"transform":[{"filter":"datum.panel==='Density'"}],"mark":{"type":"line","clip":true,"stroke":"#3ccc3c","strokeDash":[4,2],"strokeWidth":1.2},"encoding":{"x":{"field":"t"},"y":{"field":"lower"}}},
{"data":{"name":"boxes"},"transform":[{"filter":"datum.panel==='Density'"}],"mark":{"type":"line","clip":true,"stroke":"#2323cc","strokeWidth":1.6},"encoding":{"x":{"field":"t"},"y":{"field":"actual"}}}
]},
{"width":213,"height":155,"title":"108-th Senate",
"encoding":{"x":{"type":"quantitative","scale":{"domain":[0.6,11.3],"nice":false,"zero":false,"padding":0},"axis":{"values":[1,2,3,4,5,6,7,8,9,10,11],"format":"d","labelOverlap":false},"title":"T"},"y":{"type":"quantitative","scale":{"domain":[98.05,99.164],"nice":false,"zero":false},"axis":{"values":[98.1,98.2,98.3,98.4,98.5,98.6,98.7,98.8,98.9,99,99.1],"format":".1f","labelOverlap":false},"title":"Stability"}},
"layer":[
{"data":{"name":"boxes"},"transform":[{"filter":"datum.panel==='Stability'"}],"mark":{"type":"rule","stroke":"#222","strokeDash":[2,1.5],"strokeWidth":0.7},"encoding":{"x":{"field":"t"},"y":{"field":"q3"},"y2":{"field":"hi"}}},
{"data":{"name":"boxes"},"transform":[{"filter":"datum.panel==='Stability'"}],"mark":{"type":"rule","stroke":"#222","strokeDash":[2,1.5],"strokeWidth":0.7},"encoding":{"x":{"field":"t"},"y":{"field":"lo"},"y2":{"field":"q1"}}},
{"data":{"name":"boxes"},"transform":[{"filter":"datum.panel==='Stability'"}],"mark":{"type":"tick","orient":"horizontal","color":"#222","size":5,"thickness":0.8},"encoding":{"x":{"field":"t"},"y":{"field":"hi"}}},
{"data":{"name":"boxes"},"transform":[{"filter":"datum.panel==='Stability'"}],"mark":{"type":"tick","orient":"horizontal","color":"#222","size":5,"thickness":0.8},"encoding":{"x":{"field":"t"},"y":{"field":"lo"}}},
{"data":{"name":"boxes"},"transform":[{"filter":"datum.panel==='Stability'"}],"mark":{"type":"bar","size":10,"fill":"transparent","stroke":"#2b2bdd","strokeWidth":1.1},"encoding":{"x":{"field":"t"},"y":{"field":"q3"},"y2":{"field":"q1"}}},
{"data":{"name":"boxes"},"transform":[{"filter":"datum.panel==='Stability'"}],"mark":{"type":"tick","orient":"horizontal","color":"#ee2020","size":10,"thickness":1},"encoding":{"x":{"field":"t"},"y":{"field":"med"}}},
{"data":{"name":"outliers"},"transform":[{"filter":"datum.panel==='Stability'"}],"mark":{"type":"point","shape":"cross","filled":true,"color":"#ee2020","size":16,"opacity":1},"encoding":{"x":{"field":"t"},"y":{"field":"v"}}},
{"data":{"name":"boxes"},"transform":[{"filter":"datum.panel==='Stability'"}],"mark":{"type":"line","clip":true,"stroke":"#3ccc3c","strokeDash":[4,2],"strokeWidth":1.2},"encoding":{"x":{"field":"t"},"y":{"field":"upper"}}},
{"data":{"name":"boxes"},"transform":[{"filter":"datum.panel==='Stability'"}],"mark":{"type":"line","clip":true,"stroke":"#3ccc3c","strokeDash":[4,2],"strokeWidth":1.2},"encoding":{"x":{"field":"t"},"y":{"field":"lower"}}},
{"data":{"name":"boxes"},"transform":[{"filter":"datum.panel==='Stability'"}],"mark":{"type":"line","clip":true,"stroke":"#2323cc","strokeWidth":1.6},"encoding":{"x":{"field":"t"},"y":{"field":"actual"}}}
]},
{"width":213,"height":155,"title":"108-th Senate",
"encoding":{"x":{"type":"quantitative","scale":{"domain":[0.6,11.3],"nice":false,"zero":false,"padding":0},"axis":{"values":[1,2,3,4,5,6,7,8,9,10,11],"format":"d","labelOverlap":false},"title":"T"},"y":{"type":"quantitative","scale":{"domain":[0.2193,0.2717],"nice":false,"zero":false},"axis":{"values":[0.22,0.225,0.23,0.235,0.24,0.245,0.25,0.255,0.26,0.265,0.27],"format":".3f","labelOverlap":false},"title":"Reciprocity"}},
"layer":[
{"data":{"name":"boxes"},"transform":[{"filter":"datum.panel==='Reciprocity'"}],"mark":{"type":"rule","stroke":"#222","strokeDash":[2,1.5],"strokeWidth":0.7},"encoding":{"x":{"field":"t"},"y":{"field":"q3"},"y2":{"field":"hi"}}},
{"data":{"name":"boxes"},"transform":[{"filter":"datum.panel==='Reciprocity'"}],"mark":{"type":"rule","stroke":"#222","strokeDash":[2,1.5],"strokeWidth":0.7},"encoding":{"x":{"field":"t"},"y":{"field":"lo"},"y2":{"field":"q1"}}},
{"data":{"name":"boxes"},"transform":[{"filter":"datum.panel==='Reciprocity'"}],"mark":{"type":"tick","orient":"horizontal","color":"#222","size":5,"thickness":0.8},"encoding":{"x":{"field":"t"},"y":{"field":"hi"}}},
{"data":{"name":"boxes"},"transform":[{"filter":"datum.panel==='Reciprocity'"}],"mark":{"type":"tick","orient":"horizontal","color":"#222","size":5,"thickness":0.8},"encoding":{"x":{"field":"t"},"y":{"field":"lo"}}},
{"data":{"name":"boxes"},"transform":[{"filter":"datum.panel==='Reciprocity'"}],"mark":{"type":"bar","size":10,"fill":"transparent","stroke":"#2b2bdd","strokeWidth":1.1},"encoding":{"x":{"field":"t"},"y":{"field":"q3"},"y2":{"field":"q1"}}},
{"data":{"name":"boxes"},"transform":[{"filter":"datum.panel==='Reciprocity'"}],"mark":{"type":"tick","orient":"horizontal","color":"#ee2020","size":10,"thickness":1},"encoding":{"x":{"field":"t"},"y":{"field":"med"}}},
{"data":{"name":"outliers"},"transform":[{"filter":"datum.panel==='Reciprocity'"}],"mark":{"type":"point","shape":"cross","filled":true,"color":"#ee2020","size":16,"opacity":1},"encoding":{"x":{"field":"t"},"y":{"field":"v"}}},
{"data":{"name":"boxes"},"transform":[{"filter":"datum.panel==='Reciprocity'"}],"mark":{"type":"line","clip":true,"stroke":"#3ccc3c","strokeDash":[4,2],"strokeWidth":1.2},"encoding":{"x":{"field":"t"},"y":{"field":"upper"}}},
{"data":{"name":"boxes"},"transform":[{"filter":"datum.panel==='Reciprocity'"}],"mark":{"type":"line","clip":true,"stroke":"#3ccc3c","strokeDash":[4,2],"strokeWidth":1.2},"encoding":{"x":{"field":"t"},"y":{"field":"lower"}}},
{"data":{"name":"boxes"},"transform":[{"filter":"datum.panel==='Reciprocity'"}],"mark":{"type":"line","clip":true,"stroke":"#2323cc","strokeWidth":1.6},"encoding":{"x":{"field":"t"},"y":{"field":"actual"}}}
]},
{"width":213,"height":155,"title":"108-th Senate",
"encoding":{"x":{"type":"quantitative","scale":{"domain":[0.6,11.3],"nice":false,"zero":false,"padding":0},"axis":{"values":[1,2,3,4,5,6,7,8,9,10,11],"format":"d","labelOverlap":false},"title":"T"},"y":{"type":"quantitative","scale":{"domain":[0.3477,0.4516],"nice":false,"zero":false},"axis":{"values":[0.35,0.36,0.37,0.38,0.39,0.4,0.41,0.42,0.43,0.44,0.45],"format":".2f","labelOverlap":false},"title":"Transitivity"}},
"layer":[
{"data":{"name":"boxes"},"transform":[{"filter":"datum.panel==='Transitivity'"}],"mark":{"type":"rule","stroke":"#222","strokeDash":[2,1.5],"strokeWidth":0.7},"encoding":{"x":{"field":"t"},"y":{"field":"q3"},"y2":{"field":"hi"}}},
{"data":{"name":"boxes"},"transform":[{"filter":"datum.panel==='Transitivity'"}],"mark":{"type":"rule","stroke":"#222","strokeDash":[2,1.5],"strokeWidth":0.7},"encoding":{"x":{"field":"t"},"y":{"field":"lo"},"y2":{"field":"q1"}}},
{"data":{"name":"boxes"},"transform":[{"filter":"datum.panel==='Transitivity'"}],"mark":{"type":"tick","orient":"horizontal","color":"#222","size":5,"thickness":0.8},"encoding":{"x":{"field":"t"},"y":{"field":"hi"}}},
{"data":{"name":"boxes"},"transform":[{"filter":"datum.panel==='Transitivity'"}],"mark":{"type":"tick","orient":"horizontal","color":"#222","size":5,"thickness":0.8},"encoding":{"x":{"field":"t"},"y":{"field":"lo"}}},
{"data":{"name":"boxes"},"transform":[{"filter":"datum.panel==='Transitivity'"}],"mark":{"type":"bar","size":10,"fill":"transparent","stroke":"#2b2bdd","strokeWidth":1.1},"encoding":{"x":{"field":"t"},"y":{"field":"q3"},"y2":{"field":"q1"}}},
{"data":{"name":"boxes"},"transform":[{"filter":"datum.panel==='Transitivity'"}],"mark":{"type":"tick","orient":"horizontal","color":"#ee2020","size":10,"thickness":1},"encoding":{"x":{"field":"t"},"y":{"field":"med"}}},
{"data":{"name":"outliers"},"transform":[{"filter":"datum.panel==='Transitivity'"}],"mark":{"type":"point","shape":"cross","filled":true,"color":"#ee2020","size":16,"opacity":1},"encoding":{"x":{"field":"t"},"y":{"field":"v"}}},
{"data":{"name":"boxes"},"transform":[{"filter":"datum.panel==='Transitivity'"}],"mark":{"type":"line","clip":true,"stroke":"#3ccc3c","strokeDash":[4,2],"strokeWidth":1.2},"encoding":{"x":{"field":"t"},"y":{"field":"upper"}}},
{"data":{"name":"boxes"},"transform":[{"filter":"datum.panel==='Transitivity'"}],"mark":{"type":"line","clip":true,"stroke":"#3ccc3c","strokeDash":[4,2],"strokeWidth":1.2},"encoding":{"x":{"field":"t"},"y":{"field":"lower"}}},
{"data":{"name":"boxes"},"transform":[{"filter":"datum.panel==='Transitivity'"}],"mark":{"type":"line","clip":true,"stroke":"#2323cc","strokeWidth":1.6},"encoding":{"x":{"field":"t"},"y":{"field":"actual"}}}
]},
{"width":213,"height":155,"title":"108-th Senate",
"encoding":{"x":{"type":"quantitative","scale":{"domain":[0.6,11.3],"nice":false,"zero":false,"padding":0},"axis":{"values":[1,2,3,4,5,6,7,8,9,10,11],"format":"d","labelOverlap":false},"title":"T"},"y":{"type":"quantitative","scale":{"domain":[0.1633,0.2911],"nice":false,"zero":false},"axis":{"values":[0.18,0.2,0.22,0.24,0.26,0.28],"format":".2f","labelOverlap":false},"title":"Reverse-Transitivity"}},
"layer":[
{"data":{"name":"boxes"},"transform":[{"filter":"datum.panel==='Reverse-Transitivity'"}],"mark":{"type":"rule","stroke":"#222","strokeDash":[2,1.5],"strokeWidth":0.7},"encoding":{"x":{"field":"t"},"y":{"field":"q3"},"y2":{"field":"hi"}}},
{"data":{"name":"boxes"},"transform":[{"filter":"datum.panel==='Reverse-Transitivity'"}],"mark":{"type":"rule","stroke":"#222","strokeDash":[2,1.5],"strokeWidth":0.7},"encoding":{"x":{"field":"t"},"y":{"field":"lo"},"y2":{"field":"q1"}}},
{"data":{"name":"boxes"},"transform":[{"filter":"datum.panel==='Reverse-Transitivity'"}],"mark":{"type":"tick","orient":"horizontal","color":"#222","size":5,"thickness":0.8},"encoding":{"x":{"field":"t"},"y":{"field":"hi"}}},
{"data":{"name":"boxes"},"transform":[{"filter":"datum.panel==='Reverse-Transitivity'"}],"mark":{"type":"tick","orient":"horizontal","color":"#222","size":5,"thickness":0.8},"encoding":{"x":{"field":"t"},"y":{"field":"lo"}}},
{"data":{"name":"boxes"},"transform":[{"filter":"datum.panel==='Reverse-Transitivity'"}],"mark":{"type":"bar","size":10,"fill":"transparent","stroke":"#2b2bdd","strokeWidth":1.1},"encoding":{"x":{"field":"t"},"y":{"field":"q3"},"y2":{"field":"q1"}}},
{"data":{"name":"boxes"},"transform":[{"filter":"datum.panel==='Reverse-Transitivity'"}],"mark":{"type":"tick","orient":"horizontal","color":"#ee2020","size":10,"thickness":1},"encoding":{"x":{"field":"t"},"y":{"field":"med"}}},
{"data":{"name":"outliers"},"transform":[{"filter":"datum.panel==='Reverse-Transitivity'"}],"mark":{"type":"point","shape":"cross","filled":true,"color":"#ee2020","size":16,"opacity":1},"encoding":{"x":{"field":"t"},"y":{"field":"v"}}},
{"data":{"name":"boxes"},"transform":[{"filter":"datum.panel==='Reverse-Transitivity'"}],"mark":{"type":"line","clip":true,"stroke":"#3ccc3c","strokeDash":[4,2],"strokeWidth":1.2},"encoding":{"x":{"field":"t"},"y":{"field":"upper"}}},
{"data":{"name":"boxes"},"transform":[{"filter":"datum.panel==='Reverse-Transitivity'"}],"mark":{"type":"line","clip":true,"stroke":"#3ccc3c","strokeDash":[4,2],"strokeWidth":1.2},"encoding":{"x":{"field":"t"},"y":{"field":"lower"}}},
{"data":{"name":"boxes"},"transform":[{"filter":"datum.panel==='Reverse-Transitivity'"}],"mark":{"type":"line","clip":true,"stroke":"#2323cc","strokeWidth":1.6},"encoding":{"x":{"field":"t"},"y":{"field":"actual"}}}
]},
{"width":213,"height":155,"title":"108-th Senate",
"encoding":{"x":{"type":"quantitative","scale":{"domain":[0.6,11.3],"nice":false,"zero":false,"padding":0},"axis":{"values":[1,2,3,4,5,6,7,8,9,10,11],"format":"d","labelOverlap":false},"title":"T"},"y":{"type":"quantitative","scale":{"domain":[0.1358,0.4621],"nice":false,"zero":false},"axis":{"values":[0.15,0.2,0.25,0.3,0.35,0.4,0.45],"format":".2f","labelOverlap":false},"title":"Co-Supported"}},
"layer":[
{"data":{"name":"boxes"},"transform":[{"filter":"datum.panel==='Co-Supported'"}],"mark":{"type":"rule","stroke":"#222","strokeDash":[2,1.5],"strokeWidth":0.7},"encoding":{"x":{"field":"t"},"y":{"field":"q3"},"y2":{"field":"hi"}}},
{"data":{"name":"boxes"},"transform":[{"filter":"datum.panel==='Co-Supported'"}],"mark":{"type":"rule","stroke":"#222","strokeDash":[2,1.5],"strokeWidth":0.7},"encoding":{"x":{"field":"t"},"y":{"field":"lo"},"y2":{"field":"q1"}}},
{"data":{"name":"boxes"},"transform":[{"filter":"datum.panel==='Co-Supported'"}],"mark":{"type":"tick","orient":"horizontal","color":"#222","size":5,"thickness":0.8},"encoding":{"x":{"field":"t"},"y":{"field":"hi"}}},
{"data":{"name":"boxes"},"transform":[{"filter":"datum.panel==='Co-Supported'"}],"mark":{"type":"tick","orient":"horizontal","color":"#222","size":5,"thickness":0.8},"encoding":{"x":{"field":"t"},"y":{"field":"lo"}}},
{"data":{"name":"boxes"},"transform":[{"filter":"datum.panel==='Co-Supported'"}],"mark":{"type":"bar","size":10,"fill":"transparent","stroke":"#2b2bdd","strokeWidth":1.1},"encoding":{"x":{"field":"t"},"y":{"field":"q3"},"y2":{"field":"q1"}}},
{"data":{"name":"boxes"},"transform":[{"filter":"datum.panel==='Co-Supported'"}],"mark":{"type":"tick","orient":"horizontal","color":"#ee2020","size":10,"thickness":1},"encoding":{"x":{"field":"t"},"y":{"field":"med"}}},
{"data":{"name":"outliers"},"transform":[{"filter":"datum.panel==='Co-Supported'"}],"mark":{"type":"point","shape":"cross","filled":true,"color":"#ee2020","size":16,"opacity":1},"encoding":{"x":{"field":"t"},"y":{"field":"v"}}},
{"data":{"name":"boxes"},"transform":[{"filter":"datum.panel==='Co-Supported'"}],"mark":{"type":"line","clip":true,"stroke":"#3ccc3c","strokeDash":[4,2],"strokeWidth":1.2},"encoding":{"x":{"field":"t"},"y":{"field":"upper"}}},
{"data":{"name":"boxes"},"transform":[{"filter":"datum.panel==='Co-Supported'"}],"mark":{"type":"line","clip":true,"stroke":"#3ccc3c","strokeDash":[4,2],"strokeWidth":1.2},"encoding":{"x":{"field":"t"},"y":{"field":"lower"}}},
{"data":{"name":"boxes"},"transform":[{"filter":"datum.panel==='Co-Supported'"}],"mark":{"type":"line","clip":true,"stroke":"#2323cc","strokeWidth":1.6},"encoding":{"x":{"field":"t"},"y":{"field":"actual"}}},
{"data":{"values":[{"note":"Able to predict sharp changes"}]},"mark":{"type":"text","clip":false,"font":"Liberation Sans","fontSize":24,"align":"left","baseline":"alphabetic","color":"black"},"encoding":{"text":{"field":"note","type":"nominal"},"x":{"datum":-1.61},"y":{"datum":0.1758}}},
{"data":{"values":[{"note":"arrow"}]},"mark":{"type":"rule","clip":false,"color":"black","strokeWidth":1},"encoding":{"x":{"datum":0.148},"y":{"datum":0.1653},"x2":{"datum":-17.886},"y2":{"datum":-0.1337}}},
{"data":{"values":[{"note":"arrow"}]},"mark":{"type":"point","clip":false,"shape":"M0,-1L-0.38,0.55L0.38,0.55Z","filled":true,"color":"black","size":90,"angle":248,"opacity":1},"encoding":{"x":{"datum":-17.665},"y":{"datum":-0.1301}}},
{"data":{"values":[{"note":"arrow"}]},"mark":{"type":"rule","clip":false,"color":"black","strokeWidth":1},"encoding":{"x":{"datum":-0.003},"y":{"datum":0.1695},"x2":{"datum":-5.78},"y2":{"datum":-0.1147}}},
{"data":{"values":[{"note":"arrow"}]},"mark":{"type":"point","clip":false,"shape":"M0,-1L-0.38,0.55L0.38,0.55Z","filled":true,"color":"black","size":90,"angle":220,"opacity":1},"encoding":{"x":{"datum":-5.626},"y":{"datum":-0.1072}}}
]},
{"width":213,"height":155,"title":"108-th Senate",
"encoding":{"x":{"type":"quantitative","scale":{"domain":[0.6,11.3],"nice":false,"zero":false,"padding":0},"axis":{"values":[1,2,3,4,5,6,7,8,9,10,11],"format":"d","labelOverlap":false},"title":"T"},"y":{"type":"quantitative","scale":{"domain":[0.1374,0.2580],"nice":false,"zero":false},"axis":{"values":[0.14,0.16,0.18,0.2,0.22,0.24],"format":".2f","labelOverlap":false},"title":"Co-Supporting"}},
"layer":[
{"data":{"name":"boxes"},"transform":[{"filter":"datum.panel==='Co-Supporting'"}],"mark":{"type":"rule","stroke":"#222","strokeDash":[2,1.5],"strokeWidth":0.7},"encoding":{"x":{"field":"t"},"y":{"field":"q3"},"y2":{"field":"hi"}}},
{"data":{"name":"boxes"},"transform":[{"filter":"datum.panel==='Co-Supporting'"}],"mark":{"type":"rule","stroke":"#222","strokeDash":[2,1.5],"strokeWidth":0.7},"encoding":{"x":{"field":"t"},"y":{"field":"lo"},"y2":{"field":"q1"}}},
{"data":{"name":"boxes"},"transform":[{"filter":"datum.panel==='Co-Supporting'"}],"mark":{"type":"tick","orient":"horizontal","color":"#222","size":5,"thickness":0.8},"encoding":{"x":{"field":"t"},"y":{"field":"hi"}}},
{"data":{"name":"boxes"},"transform":[{"filter":"datum.panel==='Co-Supporting'"}],"mark":{"type":"tick","orient":"horizontal","color":"#222","size":5,"thickness":0.8},"encoding":{"x":{"field":"t"},"y":{"field":"lo"}}},
{"data":{"name":"boxes"},"transform":[{"filter":"datum.panel==='Co-Supporting'"}],"mark":{"type":"bar","size":10,"fill":"transparent","stroke":"#2b2bdd","strokeWidth":1.1},"encoding":{"x":{"field":"t"},"y":{"field":"q3"},"y2":{"field":"q1"}}},
{"data":{"name":"boxes"},"transform":[{"filter":"datum.panel==='Co-Supporting'"}],"mark":{"type":"tick","orient":"horizontal","color":"#ee2020","size":10,"thickness":1},"encoding":{"x":{"field":"t"},"y":{"field":"med"}}},
{"data":{"name":"outliers"},"transform":[{"filter":"datum.panel==='Co-Supporting'"}],"mark":{"type":"point","shape":"cross","filled":true,"color":"#ee2020","size":16,"opacity":1},"encoding":{"x":{"field":"t"},"y":{"field":"v"}}},
{"data":{"name":"boxes"},"transform":[{"filter":"datum.panel==='Co-Supporting'"}],"mark":{"type":"line","clip":true,"stroke":"#3ccc3c","strokeDash":[4,2],"strokeWidth":1.2},"encoding":{"x":{"field":"t"},"y":{"field":"upper"}}},
{"data":{"name":"boxes"},"transform":[{"filter":"datum.panel==='Co-Supporting'"}],"mark":{"type":"line","clip":true,"stroke":"#3ccc3c","strokeDash":[4,2],"strokeWidth":1.2},"encoding":{"x":{"field":"t"},"y":{"field":"lower"}}},
{"data":{"name":"boxes"},"transform":[{"filter":"datum.panel==='Co-Supporting'"}],"mark":{"type":"line","clip":true,"stroke":"#2323cc","strokeWidth":1.6},"encoding":{"x":{"field":"t"},"y":{"field":"actual"}}}
]},
{"width":213,"height":155,"title":"108-th Senate",
"encoding":{"x":{"type":"quantitative","scale":{"domain":[0.6,11.3],"nice":false,"zero":false,"padding":0},"axis":{"values":[1,2,3,4,5,6,7,8,9,10,11],"format":"d","labelOverlap":false},"title":"T"},"y":{"type":"quantitative","scale":{"domain":[0.1763,0.3085],"nice":false,"zero":false},"axis":{"values":[0.18,0.2,0.22,0.24,0.26,0.28,0.3],"format":".2f","labelOverlap":false},"title":"Popularity"}},
"layer":[
{"data":{"name":"boxes"},"transform":[{"filter":"datum.panel==='Popularity'"}],"mark":{"type":"rule","stroke":"#222","strokeDash":[2,1.5],"strokeWidth":0.7},"encoding":{"x":{"field":"t"},"y":{"field":"q3"},"y2":{"field":"hi"}}},
{"data":{"name":"boxes"},"transform":[{"filter":"datum.panel==='Popularity'"}],"mark":{"type":"rule","stroke":"#222","strokeDash":[2,1.5],"strokeWidth":0.7},"encoding":{"x":{"field":"t"},"y":{"field":"lo"},"y2":{"field":"q1"}}},
{"data":{"name":"boxes"},"transform":[{"filter":"datum.panel==='Popularity'"}],"mark":{"type":"tick","orient":"horizontal","color":"#222","size":5,"thickness":0.8},"encoding":{"x":{"field":"t"},"y":{"field":"hi"}}},
{"data":{"name":"boxes"},"transform":[{"filter":"datum.panel==='Popularity'"}],"mark":{"type":"tick","orient":"horizontal","color":"#222","size":5,"thickness":0.8},"encoding":{"x":{"field":"t"},"y":{"field":"lo"}}},
{"data":{"name":"boxes"},"transform":[{"filter":"datum.panel==='Popularity'"}],"mark":{"type":"bar","size":10,"fill":"transparent","stroke":"#2b2bdd","strokeWidth":1.1},"encoding":{"x":{"field":"t"},"y":{"field":"q3"},"y2":{"field":"q1"}}},
{"data":{"name":"boxes"},"transform":[{"filter":"datum.panel==='Popularity'"}],"mark":{"type":"tick","orient":"horizontal","color":"#ee2020","size":10,"thickness":1},"encoding":{"x":{"field":"t"},"y":{"field":"med"}}},
{"data":{"name":"outliers"},"transform":[{"filter":"datum.panel==='Popularity'"}],"mark":{"type":"point","shape":"cross","filled":true,"color":"#ee2020","size":16,"opacity":1},"encoding":{"x":{"field":"t"},"y":{"field":"v"}}},
{"data":{"name":"boxes"},"transform":[{"filter":"datum.panel==='Popularity'"}],"mark":{"type":"line","clip":true,"stroke":"#3ccc3c","strokeDash":[4,2],"strokeWidth":1.2},"encoding":{"x":{"field":"t"},"y":{"field":"upper"}}},
{"data":{"name":"boxes"},"transform":[{"filter":"datum.panel==='Popularity'"}],"mark":{"type":"line","clip":true,"stroke":"#3ccc3c","strokeDash":[4,2],"strokeWidth":1.2},"encoding":{"x":{"field":"t"},"y":{"field":"lower"}}},
{"data":{"name":"boxes"},"transform":[{"filter":"datum.panel==='Popularity'"}],"mark":{"type":"line","clip":true,"stroke":"#2323cc","strokeWidth":1.6},"encoding":{"x":{"field":"t"},"y":{"field":"actual"}}}
]},
{"width":213,"height":155,"title":"108-th Senate",
"encoding":{"x":{"type":"quantitative","scale":{"domain":[0.6,11.3],"nice":false,"zero":false,"padding":0},"axis":{"values":[1,2,3,4,5,6,7,8,9,10,11],"format":"d","labelOverlap":false},"title":"T"},"y":{"type":"quantitative","scale":{"domain":[12.077,14.79],"nice":false,"zero":false},"axis":{"values":[12.5,13,13.5,14,14.5],"format":".1f","labelOverlap":false},"title":"Generosity"}},
"layer":[
{"data":{"name":"boxes"},"transform":[{"filter":"datum.panel==='Generosity'"}],"mark":{"type":"rule","stroke":"#222","strokeDash":[2,1.5],"strokeWidth":0.7},"encoding":{"x":{"field":"t"},"y":{"field":"q3"},"y2":{"field":"hi"}}},
{"data":{"name":"boxes"},"transform":[{"filter":"datum.panel==='Generosity'"}],"mark":{"type":"rule","stroke":"#222","strokeDash":[2,1.5],"strokeWidth":0.7},"encoding":{"x":{"field":"t"},"y":{"field":"lo"},"y2":{"field":"q1"}}},
{"data":{"name":"boxes"},"transform":[{"filter":"datum.panel==='Generosity'"}],"mark":{"type":"tick","orient":"horizontal","color":"#222","size":5,"thickness":0.8},"encoding":{"x":{"field":"t"},"y":{"field":"hi"}}},
{"data":{"name":"boxes"},"transform":[{"filter":"datum.panel==='Generosity'"}],"mark":{"type":"tick","orient":"horizontal","color":"#222","size":5,"thickness":0.8},"encoding":{"x":{"field":"t"},"y":{"field":"lo"}}},
{"data":{"name":"boxes"},"transform":[{"filter":"datum.panel==='Generosity'"}],"mark":{"type":"bar","size":10,"fill":"transparent","stroke":"#2b2bdd","strokeWidth":1.1},"encoding":{"x":{"field":"t"},"y":{"field":"q3"},"y2":{"field":"q1"}}},
{"data":{"name":"boxes"},"transform":[{"filter":"datum.panel==='Generosity'"}],"mark":{"type":"tick","orient":"horizontal","color":"#ee2020","size":10,"thickness":1},"encoding":{"x":{"field":"t"},"y":{"field":"med"}}},
{"data":{"name":"outliers"},"transform":[{"filter":"datum.panel==='Generosity'"}],"mark":{"type":"point","shape":"cross","filled":true,"color":"#ee2020","size":16,"opacity":1},"encoding":{"x":{"field":"t"},"y":{"field":"v"}}},
{"data":{"name":"boxes"},"transform":[{"filter":"datum.panel==='Generosity'"}],"mark":{"type":"line","clip":true,"stroke":"#3ccc3c","strokeDash":[4,2],"strokeWidth":1.2},"encoding":{"x":{"field":"t"},"y":{"field":"upper"}}},
{"data":{"name":"boxes"},"transform":[{"filter":"datum.panel==='Generosity'"}],"mark":{"type":"line","clip":true,"stroke":"#3ccc3c","strokeDash":[4,2],"strokeWidth":1.2},"encoding":{"x":{"field":"t"},"y":{"field":"lower"}}},
{"data":{"name":"boxes"},"transform":[{"filter":"datum.panel==='Generosity'"}],"mark":{"type":"line","clip":true,"stroke":"#2323cc","strokeWidth":1.6},"encoding":{"x":{"field":"t"},"y":{"field":"actual"}}}
]}
],
"config":{
"font":"Liberation Sans",
"view":{"stroke":"#333","strokeWidth":1},
"axis":{"grid":false,"domain":false,"labelFontSize":5,"labelColor":"#555","labelOverlap":false,"labelBound":false,"labelFlush":false,"titleFontSize":6.5,"titleFontWeight":"normal","titleColor":"#444","tickColor":"#333","tickSize":-3,"labelPadding":6,"titlePadding":2},
"axisX":{"titlePadding":0},
"title":{"fontSize":6.5,"fontWeight":"normal","color":"#222","offset":3,"frame":"group"}
}
}
